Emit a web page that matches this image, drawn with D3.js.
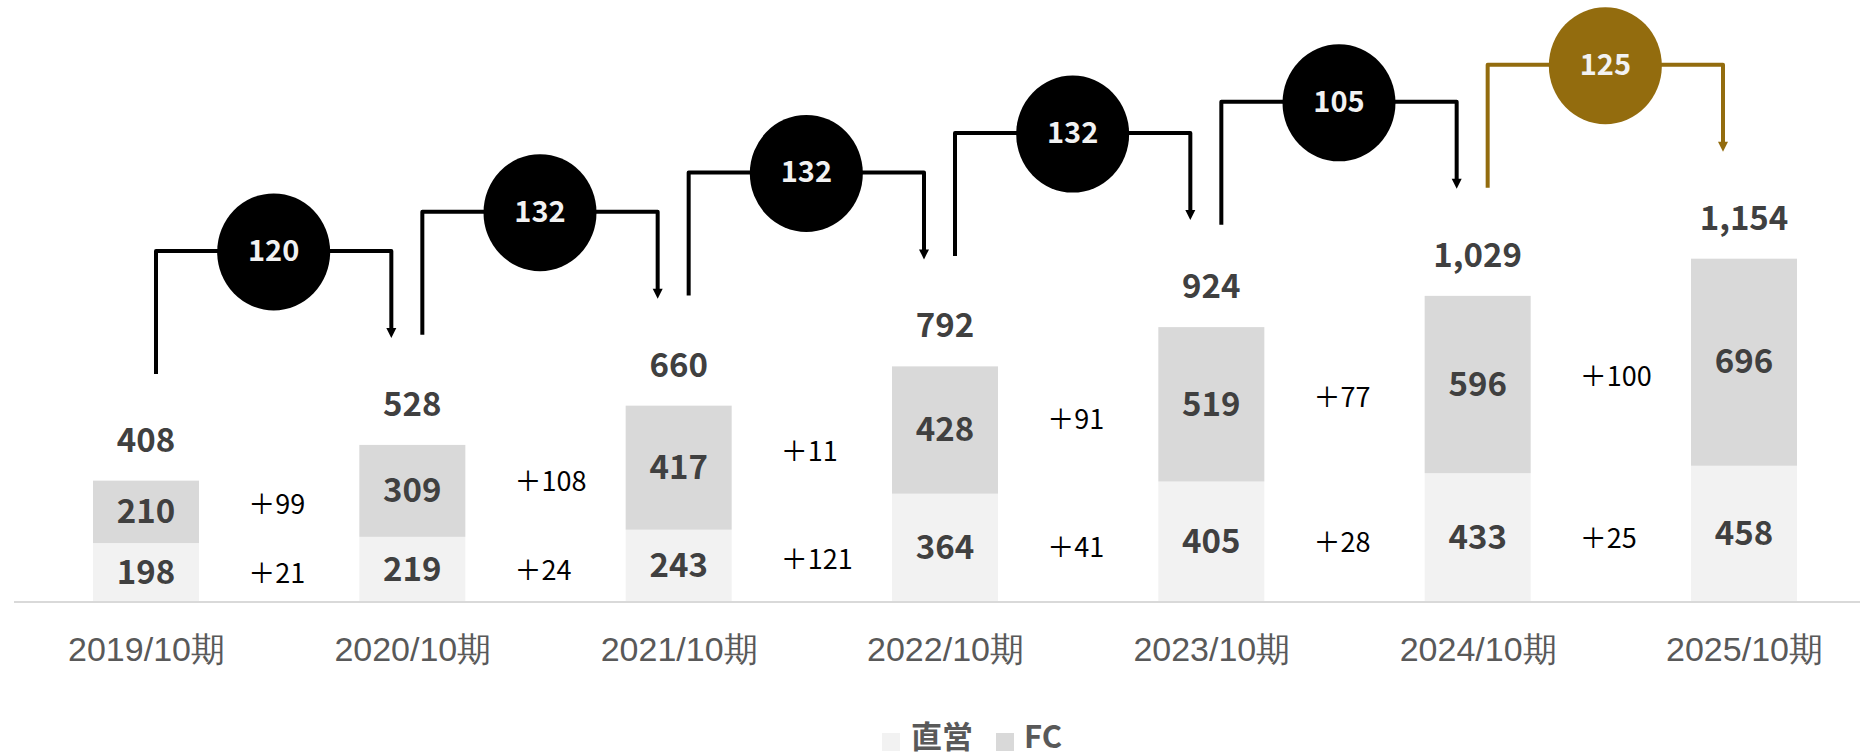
<!DOCTYPE html>
<html>
<head>
<meta charset="utf-8">
<script src="https://cdn.jsdelivr.net/npm/d3@7"></script>
<style>
  body { margin: 0; background: #ffffff; }
  svg { display: block; font-family: "Noto Sans CJK JP", "Noto Sans", sans-serif; }
  .value { font-size: 33px; font-weight: bold; fill: #404040; text-anchor: middle; }
  .total { font-size: 33px; font-weight: bold; fill: #404040; text-anchor: middle; }
  .delta { font-size: 27px; fill: #000000; }
  .badge { font-size: 29px; font-weight: bold; fill: #f2f2f2; text-anchor: middle; }
  .axis text { font-size: 34px; fill: #595959; }
  .legend text { font-size: 31px; font-weight: bold; fill: #595959; }
</style>
</head>
<body>
<div id="chart"></div>
<script>
// values
const periods = ['2019/10期', '2020/10期', '2021/10期', '2022/10期', '2023/10期', '2024/10期', '2025/10期'];
const directStores = [198, 219, 243, 364, 405, 433, 458];
const fcStores = [210, 309, 417, 428, 519, 596, 696];
const totals = [408, 528, 660, 792, 924, 1029, 1154];
const netAdds = [120, 132, 132, 132, 105, 125];
const directAdds = [21, 24, 121, 41, 28, 25];
const fcAdds = [99, 108, 11, 91, 77, 100];
const seriesNames = ['直営', 'FC'];
const seriesColours = ['#f2f2f2', '#d9d9d9'];

const width = 1860, height = 753;
const baseY = 602, barWidth = 106;

let svg = d3.select('#chart')
            .append('svg')
            .attr('width', width)
            .attr('height', height);

let table = periods.map((p, i) => ({period: p, '直営': directStores[i], 'FC': fcStores[i], total: totals[i]}));

let x = d3.scalePoint()
          .domain(periods)
          .range([146, 1744]);

let y = d3.scaleLinear()
          .domain([0, 1200])
          .range([baseY, baseY - 357]);

let colour = d3.scaleOrdinal().domain(seriesNames).range(seriesColours);

let stacked = d3.stack().keys(seriesNames)(table);

// bars
let layers = svg.selectAll('g.layer')
                .data(stacked)
                .enter()
                .append('g')
                .attr('class', 'layer')
                .style('fill', d => colour(d.key));

layers.selectAll('rect')
      .data(d => d)
      .enter()
      .append('rect')
      .attr('x', d => x(d.data.period) - barWidth / 2)
      .attr('y', d => y(d[1]))
      .attr('width', barWidth)
      .attr('height', d => y(d[0]) - y(d[1]));

// segment values
layers.selectAll('text.value')
      .data(d => d.map(s => ({s: s, key: d.key})))
      .enter()
      .append('text')
      .attr('class', 'value')
      .attr('x', d => x(d.s.data.period))
      .attr('y', d => (y(d.s[0]) + y(d.s[1])) / 2)
      .attr('dy', '0.34em')
      .text(d => d.s.data[d.key]);

// totals
svg.selectAll('text.total')
   .data(table)
   .enter()
   .append('text')
   .attr('class', 'total')
   .attr('x', d => x(d.period))
   .attr('y', d => y(d.total) - 29)
   .text(d => d3.format(',')(d.total));

// axis
svg.append('line')
   .attr('x1', 14)
   .attr('x2', width)
   .attr('y1', baseY)
   .attr('y2', baseY)
   .style('stroke', '#d9d9d9')
   .style('stroke-width', 2);

let xAxis = d3.axisBottom(x).tickSize(0);

svg.append('g')
   .attr('class', 'axis')
   .attr('transform', `translate(0, ${baseY})`)
   .call(xAxis)
   .call(g => g.select('.domain').remove())
   .selectAll('text')
   .attr('y', 59)
   .attr('dy', 0)
   .style('font-family', null);

// change labels between bars
let pairs = d3.range(netAdds.length).map(i => {
  let a = stacked[0][i], b = stacked[0][i + 1], fa = stacked[1][i], fb = stacked[1][i + 1];
  return {
    mid: (x(periods[i]) + x(periods[i + 1])) / 2,
    left: x(periods[i]) + 10,
    right: x(periods[i + 1]) - 21,
    directY: ((y(a[0]) + y(a[1])) + (y(b[0]) + y(b[1]))) / 4 + 3,
    fcY: ((y(fa[0]) + y(fa[1])) + (y(fb[0]) + y(fb[1]))) / 4 + 3,
    level: y(totals[i + 1]) - 194,
    net: netAdds[i],
    direct: directAdds[i],
    fc: fcAdds[i],
    colour: i == netAdds.length - 1 ? '#936c0e' : '#000000'
  };
});

svg.selectAll('text.deltaFc')
   .data(pairs)
   .enter()
   .append('text')
   .attr('class', 'delta')
   .attr('x', d => d.mid - 31)
   .attr('y', d => d.fcY)
   .attr('dy', '0.34em')
   .text(d => '＋' + d.fc);

svg.selectAll('text.deltaDirect')
   .data(pairs)
   .enter()
   .append('text')
   .attr('class', 'delta')
   .attr('x', d => d.mid - 31)
   .attr('y', d => d.directY)
   .attr('dy', '0.34em')
   .text(d => '＋' + d.direct);

// connectors with net additions
let links = svg.selectAll('g.link')
               .data(pairs)
               .enter()
               .append('g')
               .attr('class', 'link');

links.append('path')
     .attr('d', d => `M${d.left},${d.level + 123}V${d.level}H${d.right}V${d.level + 78}`)
     .style('fill', 'none')
     .style('stroke', d => d.colour)
     .style('stroke-width', 4)
     .style('stroke-linejoin', 'round');

links.append('path')
     .attr('d', d => `M${d.right - 5},${d.level + 77}L${d.right + 5},${d.level + 77}L${d.right},${d.level + 87}Z`)
     .style('fill', d => d.colour);

links.append('ellipse')
     .attr('cx', d => (d.left + d.right) / 2)
     .attr('cy', d => d.level + 1)
     .attr('rx', 56.5)
     .attr('ry', 58.5)
     .style('fill', d => d.colour);

links.append('text')
     .attr('class', 'badge')
     .attr('x', d => (d.left + d.right) / 2)
     .attr('y', d => d.level)
     .attr('dy', '0.34em')
     .text(d => d.net);

// legend
let legend = svg.append('g')
                .attr('class', 'legend')
                .selectAll('g')
                .data(seriesNames)
                .enter()
                .append('g')
                .attr('transform', (d, i) => `translate(${i == 0 ? 882 : 996}, 0)`);

legend.append('rect')
      .attr('y', 733)
      .attr('width', 18)
      .attr('height', 18)
      .style('fill', d => colour(d));

legend.append('text')
      .attr('x', d => d == '直営' ? 29 : 28)
      .attr('y', 748)
      .text(d => d);
</script>
</body>
</html>
